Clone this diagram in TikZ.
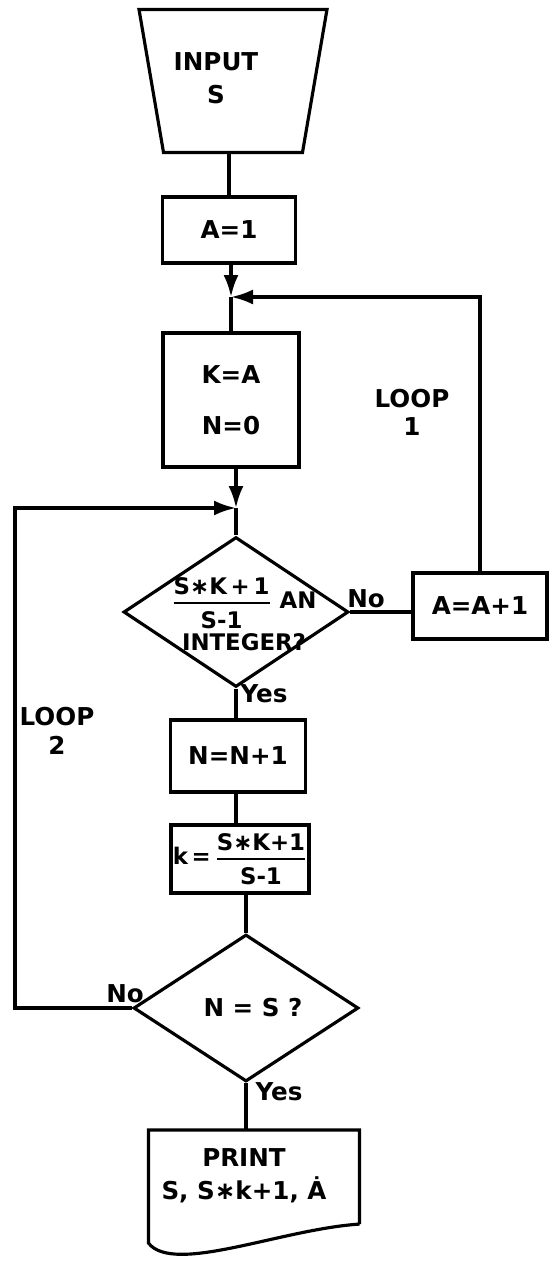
\documentclass[tikz,border=0pt]{standalone}
\usepackage{fontspec}
\setmainfont{DejaVu Sans}
\usepackage{amsmath}
\usetikzlibrary{arrows.meta,shapes.geometric}

\newcommand{\flowfrac}[2]{\genfrac{}{}{1.3pt}{0}{\text{#1}}{\text{#2}}}

\begin{document}
\begin{tikzpicture}[x=0.02cm,y=-0.02cm,line width=1.8pt,>={Latex[length=4.4mm,width=3mm]},
  font=\fontsize{14}{16.8}\selectfont\bfseries,
  box/.style={draw,rectangle,minimum width=2.7cm,minimum height=1.4cm,inner sep=2pt},
  lbl/.style={inner sep=1pt}]
  \useasboundingbox (0,0) rectangle (549,1263);
  % input trapezium
  \node[draw,trapezium,trapezium angle=80,shape border rotate=180,trapezium stretches=true,
        minimum width=3.76cm,minimum height=2.86cm] (input) at (233,81) {};
  \node[align=center,lbl] (intxt) at (216,78) {INPUT\\[2pt]S};
  \node[box,minimum width=2.66cm,minimum height=1.32cm] (a1) at (229,230) {A=1};
  \coordinate (j1) at (231,297);
  \node[box,minimum width=2.72cm,minimum height=2.68cm,align=center] (ka) at (231,400) {K=A\\[12pt]N=0};
  \coordinate (j2) at (236,508);
  % test: integer?
  \node[draw,diamond,minimum width=4.5cm,minimum height=3cm,inner sep=0pt] (test) at (236,612) {};
  \node[align=center,lbl,font=\fontsize{13}{15.6}\selectfont\bfseries] (testtxt) at (244,614)
       {$\flowfrac{S∗K\,+\,1}{S-1}$ AN\\[2pt]INTEGER?};
  \node[box,minimum width=2.68cm,minimum height=1.32cm] (aplus) at (480,606) {A=A+1};
  \node[lbl] (noA) at (366,599) {No};
  \node[lbl,align=center] (loopa) at (412,412) {LOOP\\[-1pt]1};
  \node[lbl] (yesA) at (264,694) {Yes};
  \node[box,minimum width=2.7cm,minimum height=1.44cm] (nplus) at (238,756) {N=N+1};
  \node[box,minimum width=2.7cm,minimum height=1.36cm,inner sep=1pt,font=\fontsize{13}{15.6}\selectfont\bfseries]
       (kupd) at (240,859) {k\,=\,$\flowfrac{S∗K+1}{S-1}$};
  % test: N=S?
  \node[draw,diamond,minimum width=4.5cm,minimum height=2.94cm,inner sep=0pt] (check) at (246,1008) {};
  \node[lbl] (checktxt) at (253,1008) {N = S ?};
  \node[lbl] (noB) at (125,994) {No};
  \node[lbl,align=center] (loopb) at (57,731) {LOOP\\[0pt]2};
  \node[lbl] (yesB) at (279,1092) {Yes};
  \coordinate (lp2) at (15,508);
  % print (document shape)
  \node[minimum width=4.16cm,minimum height=1.82cm] (prt) at (254,1177) {};
  \node[align=center,lbl] (prttxt) at (244,1176) {PRINT\\[2pt]S, S∗k+1, Ȧ};
  \draw (prt.south east) -- (prt.north east) -- (prt.north west) -- ([yshift=-0.38cm]prt.south west)
        .. controls +(25,32) and +(-78,5) .. (prt.south east);
  % connectors
  \draw (input.south -| a1.north) -- (a1.north);
  \draw[->] (a1.south -| j1) -- (j1);
  \draw (j1) -- (ka.north);
  \draw[->] (j2 |- ka.south) -- (j2);
  \draw (j2) -- (test.north);
  \draw (test.east) -- (test.east -| aplus.west);
  \draw[->] (aplus.north) |- (j1);
  \draw (test.south) -- (test.south |- nplus.north);
  \draw (test.south |- nplus.south) -- (test.south |- kupd.north);
  \draw (check.north |- kupd.south) -- (check.north);
  \draw[->] (check.west) -| (lp2) -- (j2);
  \draw (check.south) -- (check.south |- prt.north);
\end{tikzpicture}
\end{document}
